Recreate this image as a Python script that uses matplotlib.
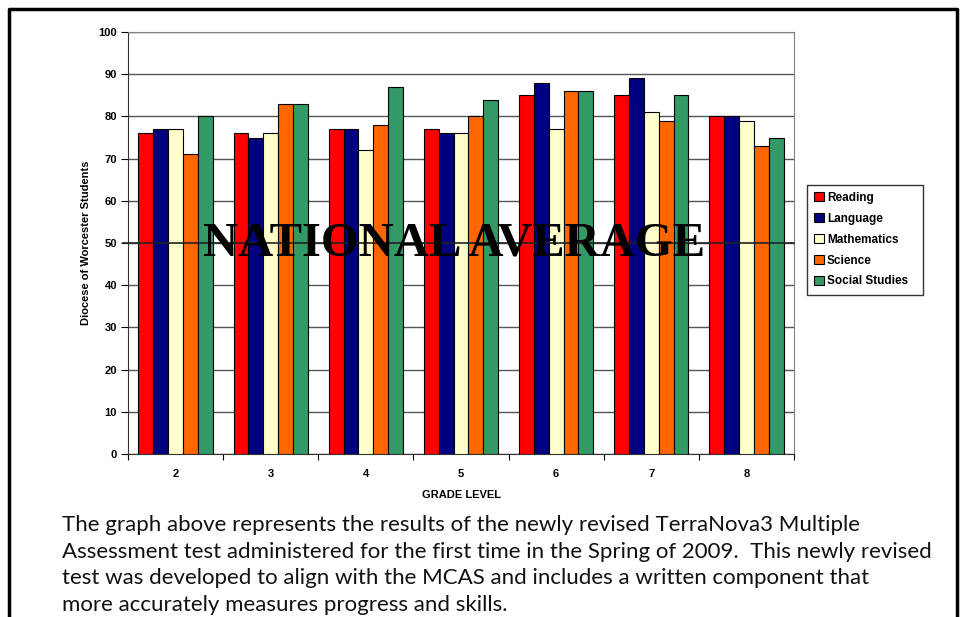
import numpy as np
import matplotlib.pyplot as plt
from matplotlib.lines import Line2D

# Datos
grados = ['2', '3', '4', '5', '6', '7', '8']
materias = ['Reading', 'Language', 'Mathematics', 'Science', 'Social Studies']
reading = [76, 76, 77, 77, 85, 85, 80]
language = [77, 75, 77, 76, 88, 89, 80]
mathematics = [77, 76, 72, 76, 77, 81, 79]
science = [71, 83, 78, 80, 86, 79, 73]
social = [80, 83, 87, 84, 86, 85, 75]
promedio_nacional = 50
colores = ['#FF0000', '#000080', '#FFFFCC', '#FF6600', '#339966']

texto = ("The graph above represents the results of the newly revised TerraNova3 Multiple\n"
         "Assessment test administered for the first time in the Spring of 2009.  This newly revised\n"
         "test was developed to align with the MCAS and includes a written component that\n"
         "more accurately measures progress and skills.")

W, H = 964, 617
fig = plt.figure(figsize=(W / 100, H / 100), dpi=100)

# Marco exterior (izquierda, arriba, derecha)
fig.add_artist(Line2D([9 / W, 9 / W, 957 / W, 957 / W], [0, 1 - 9 / H, 1 - 9 / H, 0],
                      color='black', lw=2.5, transform=fig.transFigure))

ax = fig.add_axes([128 / W, 1 - 454 / H, (794 - 128) / W, (454 - 32) / H])

series = [reading, language, mathematics, science, social]
x = np.arange(len(grados))
ancho = 0.156
for i, (vals, col, nom) in enumerate(zip(series, colores, materias)):
    ax.bar(x + (i - 2) * ancho, vals, ancho, color=col, edgecolor='black',
           linewidth=0.8, label=nom, zorder=3)

ax.set_xlim(-0.5, len(grados) - 0.5)
ax.set_ylim(0, 100)
ax.set_yticks(np.arange(0, 101, 10))
ax.yaxis.grid(True, color='#555555', linewidth=1, zorder=0)
ax.set_axisbelow(True)

# Marcas entre categorias
ax.set_xticks(np.arange(-0.5, len(grados) + 0.5, 1))
ax.set_xticklabels([])
ax.set_xticks(x, minor=True)
ax.set_xticklabels(grados, minor=True, fontsize=8, fontweight='bold', family='Liberation Sans')
ax.tick_params(axis='x', which='minor', length=0, pad=11)
ax.tick_params(axis='x', which='major', length=4, color='black')
ax.tick_params(axis='y', length=5, labelsize=8, pad=3)
for lbl in ax.get_yticklabels():
    lbl.set_fontweight('bold')
    lbl.set_family('Liberation Sans')

for lado in ['top', 'right']:
    ax.spines[lado].set_color('#808080')
ax.spines['left'].set_color('#333333')
ax.spines['bottom'].set_color('#333333')

# Linea del promedio nacional sobre las barras
ax.axhline(promedio_nacional, color='#222222', lw=1.2, zorder=5, xmin=-0.007, clip_on=False)
ax.text(2.93, promedio_nacional, 'NATIONAL AVERAGE', ha='center', va='center',
        fontsize=35, family='Liberation Serif', fontweight='bold', zorder=6)

ax.set_xlabel('GRADE LEVEL', fontsize=8, fontweight='bold', family='Liberation Sans', labelpad=8)
ax.set_ylabel('Diocese of Worcester Students', fontsize=8, fontweight='bold',
              family='Liberation Sans', labelpad=5)

leg = ax.legend(loc='upper left', bbox_to_anchor=(807 / W, 1 - 292 / H, 116 / W, 107 / H),
                bbox_transform=fig.transFigure, mode='expand', frameon=True, fancybox=False,
                prop={'family': 'Liberation Sans', 'weight': 'bold', 'size': 8.5},
                handlelength=0.8, handleheight=0.8, handletextpad=0.3,
                labelspacing=0.75, borderpad=0.6, borderaxespad=0)
leg.get_frame().set_edgecolor('black')
leg.get_frame().set_linewidth(1)

fig.text(62 / W, 1 - 515 / H, texto, ha='left', va='top', fontsize=16,
         family='Lato', linespacing=1.42, color='#111111')

fig.savefig('out.png', dpi=100)
